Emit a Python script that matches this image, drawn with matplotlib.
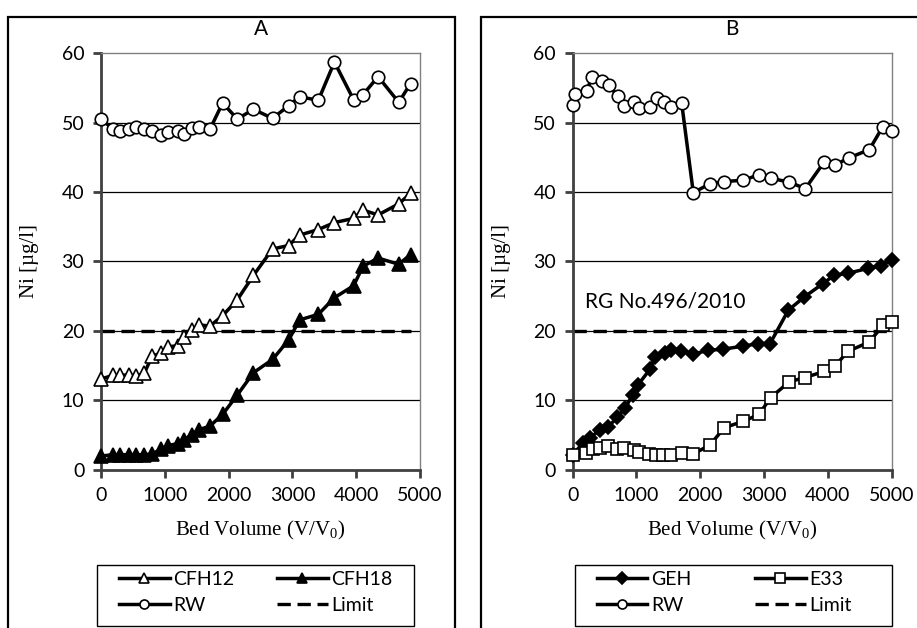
import matplotlib
matplotlib.use('Agg')
import matplotlib.pyplot as plt
from matplotlib.patches import Rectangle

# panel A: bed volume sampling and Ni concentrations
a_bv = [0, 184, 299, 441, 551, 677, 803, 940, 1044, 1202, 1296, 1428, 1532, 1706,
        1906, 2137, 2389, 2688, 2940, 3113, 3406, 3658, 3957, 4106, 4342, 4666, 4850]
a_cfh12 = [13.1, 13.6, 13.6, 13.7, 13.5, 13.9, 16.4, 16.8, 17.7, 17.9, 19.1, 20.1, 20.9, 20.7,
           22.2, 24.5, 28.0, 31.8, 32.3, 33.8, 34.6, 35.6, 36.2, 37.4, 36.7, 38.3, 39.8]
a_cfh18 = [2.0, 2.2, 2.2, 2.2, 2.2, 2.2, 2.3, 3.0, 3.5, 3.8, 4.3, 5.1, 5.8, 6.3,
           8.0, 10.8, 14.0, 15.9, 18.7, 21.6, 22.4, 24.8, 26.5, 29.3, 30.5, 29.6, 31.0]
a_rw = [50.5, 49.1, 48.8, 49.0, 49.3, 49.1, 48.8, 48.2, 48.7, 48.8, 48.4, 49.2, 49.3, 49.0,
        52.8, 50.5, 51.9, 50.6, 52.4, 53.7, 53.2, 58.7, 53.3, 54.0, 56.6, 52.9, 55.6]
a_limit_x = [0, 4850]

# panel B
b_geh_x = [0, 166, 271, 428, 558, 699, 820, 940, 1028, 1212, 1290, 1447, 1536, 1697,
           1890, 2125, 2361, 2665, 2909, 3093, 3380, 3630, 3918, 4095, 4310, 4623, 4827, 5000]
b_geh = [2.2, 3.9, 4.6, 5.8, 6.2, 7.6, 8.9, 10.8, 12.3, 14.5, 16.3, 16.8, 17.2, 17.1,
         16.7, 17.2, 17.4, 17.8, 18.2, 18.2, 23.0, 24.9, 26.8, 28.0, 28.3, 29.0, 29.4, 30.2]
b_e33_x = [0, 208, 313, 428, 558, 689, 809, 961, 1039, 1201, 1301, 1420, 1541, 1708,
           1890, 2152, 2376, 2674, 2920, 3100, 3395, 3641, 3943, 4111, 4318, 4645, 4860, 5000]
b_e33 = [2.2, 2.4, 3.0, 3.2, 3.4, 3.0, 3.2, 2.9, 2.6, 2.3, 2.2, 2.2, 2.2, 2.4,
         2.3, 3.6, 6.1, 7.0, 8.0, 10.4, 12.7, 13.3, 14.2, 15.0, 17.1, 18.4, 20.8, 21.3]
b_rw_x = [0, 30, 220, 298, 455, 564, 705, 804, 961, 1039, 1212, 1316, 1436, 1541, 1708,
          1890, 2152, 2376, 2674, 2925, 3103, 3395, 3646, 3939, 4111, 4326, 4649, 4859, 5000]
b_rw = [52.5, 54.1, 54.5, 56.5, 55.9, 55.4, 53.8, 52.4, 53.0, 52.1, 52.3, 53.5, 53.0, 52.3, 52.8,
        39.9, 41.2, 41.5, 41.7, 42.5, 42.0, 41.4, 40.5, 44.3, 43.9, 44.9, 46.1, 49.4, 48.8]
b_limit_x = [0, 5000]

limit = 20
x_ticks = [0, 1000, 2000, 3000, 4000, 5000]
y_ticks = [0, 10, 20, 30, 40, 50, 60]

sans = 'Lato'
serif = 'Liberation Serif'

fig = plt.figure(figsize=(9.17, 6.28), dpi=100)

# outer panel frames
fig.add_artist(Rectangle((0.0087, -0.02), 0.4875, 0.993, transform=fig.transFigure,
                         fill=False, edgecolor='black', lw=1.6))
fig.add_artist(Rectangle((0.5245, -0.02), 0.49, 0.993, transform=fig.transFigure,
                         fill=False, edgecolor='black', lw=1.6))

axA = fig.add_axes([0.1101, 0.2516, 0.348, 0.664])
axB = fig.add_axes([0.6245, 0.2516, 0.348, 0.664])

line_kw = dict(color='black', lw=2.5, markeredgecolor='black', markeredgewidth=1.2,
               clip_on=False, zorder=3)
dash = (0, (4, 2))


def style(ax, title):
    ax.set_xlim(0, 5000)
    ax.set_ylim(0, 60)
    ax.set_xticks(x_ticks)
    ax.set_yticks(y_ticks)
    for y in y_ticks[1:-1]:
        ax.axhline(y, color='black', lw=0.9, zorder=1)
    for s in ['top', 'right']:
        ax.spines[s].set_color('#808080')
        ax.spines[s].set_linewidth(1.0)
    for s in ['left', 'bottom']:
        ax.spines[s].set_color('#404040')
        ax.spines[s].set_linewidth(2.0)
    ax.tick_params(direction='out', length=6, width=2, color='#404040',
                   labelsize=14, pad=6)
    for lab in ax.get_xticklabels() + ax.get_yticklabels():
        lab.set_fontfamily(sans)
    ax.set_xlabel('Bed Volume (V/V$_\\mathregular{0}$)', fontfamily=serif, fontsize=15, labelpad=11)
    ax.set_ylabel('Ni [µg/l]', fontfamily=serif, fontsize=15, labelpad=16)
    ax.set_title(title, fontfamily=sans, fontsize=15, pad=13)


def add_legend(ax, col1, col2, box_x0):
    # boxed two-column legend with fixed column positions, below the axes
    ax.add_patch(Rectangle((box_x0, -0.374), 0.994, 0.146, transform=ax.transAxes,
                           fill=False, edgecolor='black', lw=1.0, clip_on=False))
    kw = dict(loc='upper left', frameon=False, borderpad=0, borderaxespad=0,
              handlelength=2.6, handletextpad=0.2, labelspacing=0.45,
              prop={'family': sans, 'size': 14})
    leg1 = ax.legend(handles=col1, bbox_to_anchor=(box_x0 + 22 / 319, -0.242), **kw)
    ax.add_artist(leg1)
    leg2 = ax.legend(handles=col2, bbox_to_anchor=(box_x0 + 180 / 319, -0.242), **kw)
    for leg in (leg1, leg2):
        for h in leg.legend_handles:
            h.set_markersize(6.5)


style(axA, 'A')
cfh12, = axA.plot(a_bv, a_cfh12, marker='^', markersize=10, markerfacecolor='white', label='CFH12', **line_kw)
cfh18, = axA.plot(a_bv, a_cfh18, marker='^', markersize=10, markerfacecolor='black', label='CFH18', **line_kw)
rw_a, = axA.plot(a_bv, a_rw, marker='o', markersize=9, markerfacecolor='white', label='RW', **line_kw)
lim_a, = axA.plot(a_limit_x, [limit, limit], color='black', lw=2.4, ls=dash, label='Limit', zorder=2)

style(axB, 'B')
geh, = axB.plot(b_geh_x, b_geh, marker='D', markersize=7, markerfacecolor='black', label='GEH', **line_kw)
e33, = axB.plot(b_e33_x, b_e33, marker='s', markersize=8, markerfacecolor='white', label='E33', **line_kw)
rw_b, = axB.plot(b_rw_x, b_rw, marker='o', markersize=9, markerfacecolor='white', label='RW', **line_kw)
lim_b, = axB.plot(b_limit_x, [limit, limit], color='black', lw=2.4, ls=dash, label='Limit', zorder=2)
axB.text(200, 24.3, 'RG No.496/2010', fontfamily=sans, fontsize=15, va='center', ha='left')

add_legend(axA, [cfh12, rw_a], [cfh18, lim_a], -0.0125)
add_legend(axB, [geh, rw_b], [e33, lim_b], 0.007)

fig.savefig('out.png', dpi=100)
